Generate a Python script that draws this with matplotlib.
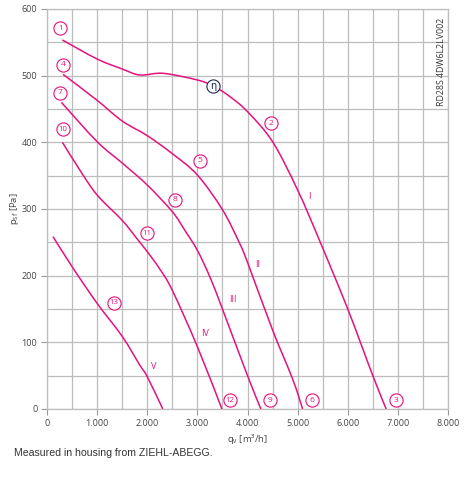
import matplotlib
matplotlib.use("Agg")
import matplotlib.pyplot as plt
from matplotlib.path import Path
from matplotlib.patches import PathPatch

# ---- data ----
curve_I_x = [307, 1000, 1500, 1853, 2320, 3000, 3320, 3650, 4000, 4500, 5000, 5433, 6000, 6500, 6767]
curve_I_y = [553.5, 525, 510, 501, 503.5, 493.5, 484.5, 468.5, 446, 401, 328.5, 253.5, 150, 50, 0]

curve_II_x = [320, 1000, 1500, 2000, 2500, 3000, 3500, 3833, 4000, 4500, 4900, 5100]
curve_II_y = [502, 463, 432, 410, 383, 351, 299, 250, 220, 118.5, 45, 0]

curve_III_x = [287, 1000, 1500, 2000, 2500, 2750, 3000, 3250, 3500, 4000, 4267]
curve_III_y = [460, 401, 369, 336, 296, 268, 238, 198, 150, 50, 0]

curve_IV_x = [307, 650, 1000, 1500, 1800, 2000, 2250, 2500, 3000, 3490]
curve_IV_y = [400, 359, 321, 283, 255, 236, 210, 178, 93.5, 0]

curve_V_x = [120, 500, 1000, 1500, 1850, 2000, 2310]
curve_V_y = [258.5, 213.5, 158.5, 109, 66, 48.5, 0]

curves_x = [curve_I_x, curve_II_x, curve_III_x, curve_IV_x, curve_V_x]
curves_y = [curve_I_y, curve_II_y, curve_III_y, curve_IV_y, curve_V_y]

circle_labels = ["1", "4", "7", "10", "5", "8", "11", "13", "2", "3", "6", "9", "12"]
circle_x = [267, 320, 267, 320, 3047, 2547, 2000, 1337, 4476, 6971, 5287, 4457, 3645]
circle_y = [571, 516, 474.5, 419.5, 372, 313.5, 263.5, 159.5, 428.5, 13.5, 13.5, 13.5, 13.5]

eta_x, eta_y = 3320, 484.5

roman_labels = ["I", "II", "III", "IV", "V"]
roman_x = [5241, 4210, 3711, 3146, 2128]
roman_y = [318.5, 217, 163.5, 113.5, 63.5]

x_ticks = [0, 1000, 2000, 3000, 4000, 5000, 6000, 7000, 8000]
x_tick_labels = ["0", "1.000", "2.000", "3.000", "4.000", "5.000", "6.000", "7.000", "8.000"]
y_ticks = [0, 100, 200, 300, 400, 500, 600]

# ---- styling ----
PINK = "#e5127d"
GRID = "#bdbdbd"
TXT = "#444444"
NAVY = "#1d2b55"


def smooth_path(xs, ys):
    """Catmull-Rom curve through the read points, drawn as cubic Bezier segments."""
    pts = list(zip(xs, ys))
    n = len(pts)
    verts = [pts[0]]
    codes = [Path.MOVETO]
    for i in range(n - 1):
        p0 = pts[i - 1] if i > 0 else pts[i]
        p1 = pts[i]
        p2 = pts[i + 1]
        p3 = pts[i + 2] if i + 2 < n else pts[i + 1]
        c1 = (p1[0] + (p2[0] - p0[0]) / 6, p1[1] + (p2[1] - p0[1]) / 6)
        c2 = (p2[0] - (p3[0] - p1[0]) / 6, p2[1] - (p3[1] - p1[1]) / 6)
        verts += [c1, c2, p2]
        codes += [Path.CURVE4] * 3
    return Path(verts, codes)


fig = plt.figure(figsize=(4.74, 4.80), dpi=100)
ax = fig.add_axes([47/474, 1 - 409/480, 401/474, 400/480])

ax.set_xlim(0, 8000)
ax.set_ylim(0, 600)
ax.set_xticks(x_ticks)
ax.set_xticklabels(x_tick_labels)
ax.set_yticks(y_ticks)
ax.set_xticks(range(0, 8001, 500), minor=True)
ax.set_yticks(range(0, 601, 50), minor=True)
ax.grid(True, which="both", color=GRID, lw=0.9)
ax.set_axisbelow(True)
for s in ax.spines.values():
    s.set_color(GRID)
    s.set_linewidth(0.9)
ax.tick_params(which="major", length=4, width=0.8, color="#999999",
               labelsize=6.5, labelcolor=TXT, pad=3)
ax.tick_params(which="minor", length=0)
for lab in ax.get_xticklabels() + ax.get_yticklabels():
    lab.set_fontfamily("Open Sans")

for cx, cy in zip(curves_x, curves_y):
    ax.add_patch(PathPatch(smooth_path(cx, cy), fill=False, edgecolor=PINK, lw=1.1, zorder=3))

for lab, x, y in zip(circle_labels, circle_x, circle_y):
    ax.plot(x, y, marker="o", ms=9.5, mfc="white", mec=PINK, mew=0.8, zorder=4)
    ax.text(x, y, lab, color=PINK, fontsize=5.5 if len(lab) > 1 else 6,
            ha="center", va="center", family="Open Sans", zorder=5)

ax.plot(eta_x, eta_y, marker="o", ms=9.5, mfc="white", mec=NAVY, mew=0.8, zorder=4)
ax.text(eta_x, eta_y, "η", color=NAVY, fontsize=7, ha="center", va="center",
        family="DejaVu Sans", zorder=5)

for lab, x, y in zip(roman_labels, roman_x, roman_y):
    ax.text(x, y, lab, color=PINK, fontsize=6.5, ha="center", va="center",
            family="Open Sans", zorder=5)

ax.text(0.985, 0.8675, "RD28S 4DW6L2LV002", transform=ax.transAxes, rotation=90,
        fontsize=6.3, color="#333333", ha="center", va="center", family="Open Sans")

ax.set_xlabel("q$_\\mathregular{v}$ [m³/h]", fontsize=6.8, color=TXT, family="Open Sans", labelpad=3)
ax.set_ylabel("p$_\\mathregular{sf}$ [Pa]", fontsize=6.8, color=TXT, family="Open Sans", labelpad=0.5)

fig.text(14/474, 1 - 453/480, "Measured in housing from ZIEHL-ABEGG.", fontsize=7.6,
         color="#333333", family="Liberation Sans", ha="left", va="center")

fig.savefig("out.png", dpi=100)
